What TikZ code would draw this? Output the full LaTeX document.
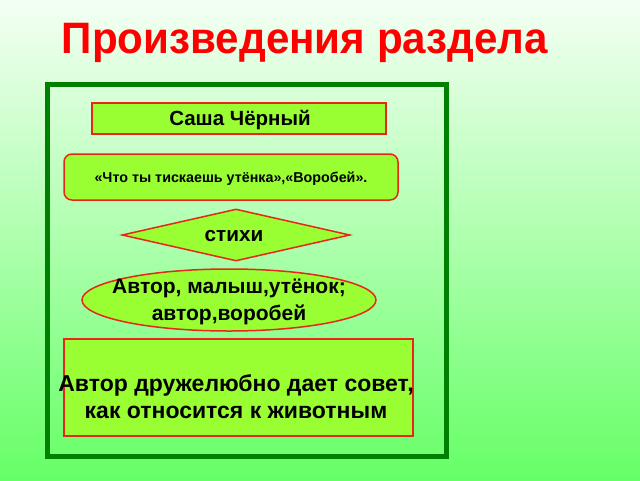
\documentclass[tikz,border=0pt]{standalone}
\usepackage{fontspec}
\setmainfont{Liberation Sans}
\usetikzlibrary{shapes.geometric}
\definecolor{framegreen}{HTML}{008000}
\definecolor{boxfill}{HTML}{99FF33}
\definecolor{bordred}{HTML}{E8261A}
\definecolor{bgtop}{HTML}{F4FFF4}
\definecolor{bgbot}{HTML}{66FF66}
\definecolor{titlered}{HTML}{FF0000}
\tikzset{
  boxshape/.style={draw=bordred, fill=boxfill, line width=1.5pt, inner sep=0pt},
  lbl/.style={font=\bfseries, text=black, align=center, inner sep=0pt},
}
\begin{document}
\begin{tikzpicture}[x=1pt,y=-1pt]
\useasboundingbox (0,0) rectangle (640,480);
\shade[top color=bgtop, bottom color=bgbot] (0,0) rectangle (640,480);
\node[font=\bfseries\fontsize{44}{50}\selectfont, text=titlered, inner sep=0pt, xscale=0.958] (title) at (305,43) {Произведения раздела};
\draw[framegreen, line width=5pt] (47,84) rectangle (446,456);
\node[boxshape, rectangle, minimum width=294pt, minimum height=31pt] (author) at (239,118.5) {};
\node[lbl, font=\bfseries\fontsize{20.5}{24}\selectfont] (authort) at (240,120) {Саша Чёрный};
\node[boxshape, rectangle, rounded corners=8pt, minimum width=334pt, minimum height=46pt] (works) at (231,177) {};
\node[lbl, font=\bfseries\fontsize{14.3}{17}\selectfont] (workst) at (231,179) {«Что ты тискаешь утёнка»,«Воробей».};
\node[boxshape, diamond, aspect=4.38, minimum width=228pt, minimum height=52pt] (genre) at (236,235) {};
\node[lbl, font=\bfseries\fontsize{20.7}{24}\selectfont] (genret) at (234,236) {стихи};
\node[boxshape, ellipse, minimum width=294pt, minimum height=62pt] (heroes) at (229,300) {};
\node[lbl, font=\bfseries\fontsize{21}{27}\selectfont] (heroest) at (229,302) {Автор, малыш,утёнок;\\автор,воробей};
\node[boxshape, rectangle, minimum width=349pt, minimum height=97pt] (idea) at (238.5,387.5) {};
\node[lbl, font=\bfseries\fontsize{23}{27}\selectfont] (ideat) at (236,397) {Автор дружелюбно дает совет,\\как относится к животным};
\end{tikzpicture}
\end{document}
